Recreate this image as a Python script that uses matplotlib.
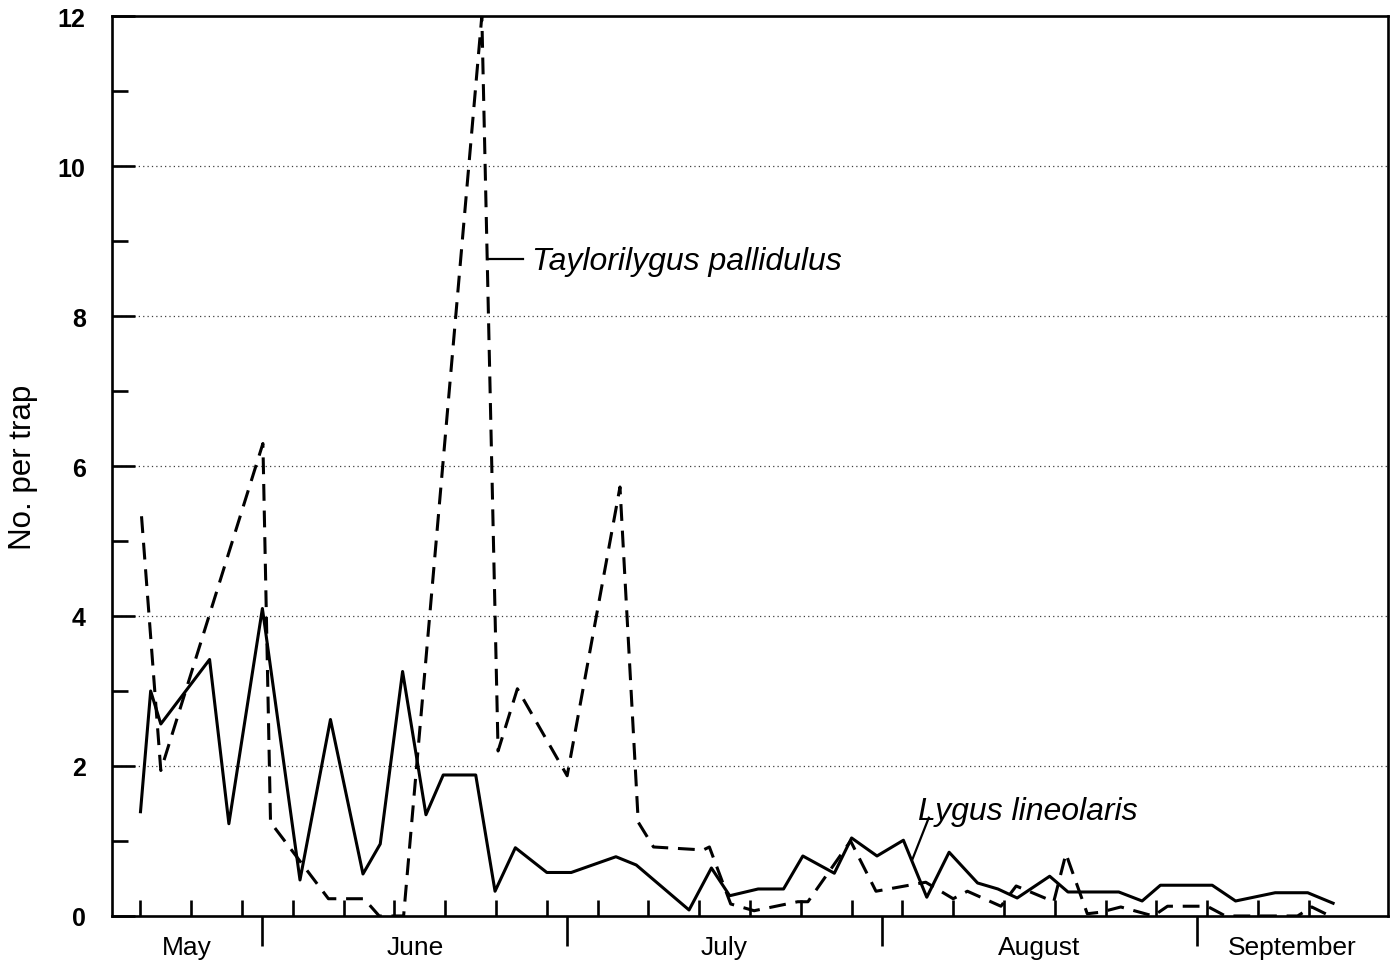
import matplotlib
matplotlib.use("Agg")
import matplotlib.pyplot as plt
import matplotlib.transforms as mtransforms
import numpy as np

plt.rcParams['font.family'] = ['Liberation Sans', 'DejaVu Sans']

# x values are day of year (May 1 = 121)
lygus_day = [140.0, 141.0, 142.0, 146.8, 148.7, 152.0, 155.7, 158.7, 161.9, 163.6,
             165.8, 168.1, 169.8, 173.0, 174.9, 176.9, 180.0, 182.4, 186.8, 188.8,
             194.0, 196.2, 198.0, 200.8, 203.3, 205.2, 208.3, 210.0, 212.5, 215.1,
             217.4, 219.6, 222.4, 224.4, 226.3, 229.5, 231.3, 236.3, 238.6, 240.4,
             245.5, 247.8, 251.7, 254.9, 257.4]
lygus_n = [1.39, 3.0, 2.56, 3.42, 1.23, 4.1, 0.48, 2.62, 0.56, 0.96,
           3.26, 1.35, 1.88, 1.88, 0.33, 0.91, 0.58, 0.58, 0.79, 0.68,
           0.08, 0.64, 0.27, 0.36, 0.36, 0.80, 0.57, 1.04, 0.80, 1.01,
           0.25, 0.85, 0.44, 0.36, 0.24, 0.53, 0.32, 0.32, 0.20, 0.41,
           0.41, 0.20, 0.31, 0.31, 0.17]

tayl_day = [140.1, 142.0, 152.05, 152.8, 158.5, 162.0, 163.5, 165.9, 173.6, 175.2,
            177.1, 182.0, 187.2, 189.0, 190.5, 195.4, 196.0, 198.1, 200.4, 204.7,
            205.7, 209.9, 212.4, 217.3, 220.0, 221.4, 224.7, 226.2, 229.9, 231.1,
            233.2, 234.5, 236.5, 239.7, 241.1, 245.0, 246.8, 253.9, 255.3, 257.1]
tayl_n = [5.33, 1.94, 6.30, 1.25, 0.23, 0.23, 0.0, 0.0, 12.0, 2.2,
          3.03, 1.87, 5.72, 1.25, 0.92, 0.88, 0.92, 0.16, 0.07, 0.19,
          0.19, 1.0, 0.33, 0.45, 0.23, 0.33, 0.13, 0.40, 0.19, 0.83,
          0.03, 0.05, 0.12, 0.0, 0.13, 0.13, 0.0, 0.0, 0.12, 0.0]

months = ['May', 'June', 'July', 'August', 'September']
month_starts = [152, 182, 213, 244]
x_min, x_max = 137.2, 262.8

fig = plt.figure(figsize=(13.92, 9.62), dpi=100)
ax = fig.add_axes([0.0805, 0.0468, 0.9166, 0.9355])

ax.plot(tayl_day, tayl_n, color='black', lw=2.2, linestyle=(0, (5.5, 3.2)))
ax.plot(lygus_day, lygus_n, color='black', lw=2.2)

ax.set_xlim(x_min, x_max)
ax.set_ylim(0, 12)

for side in ['left', 'right', 'top', 'bottom']:
    ax.spines[side].set_linewidth(1.9)

# y axis
ax.set_yticks(np.arange(0, 13, 2))
ax.set_yticks(np.arange(1, 12, 2), minor=True)
ax.tick_params(axis='y', which='major', direction='in', length=16.5, width=1.9,
               pad=19, labelsize=18)
ax.tick_params(axis='y', which='minor', direction='in', length=11.5, width=1.9)
for lab in ax.get_yticklabels():
    lab.set_fontweight('bold')
ax.set_ylabel('No. per trap', fontsize=22.5, labelpad=14)

for v in range(2, 12, 2):
    ax.axhline(v, color='0.25', lw=0.9, linestyle=(0, (1, 2.5)), zorder=0)

# x axis: 5-day ticks inside, month separators outside
ax.set_xticks(month_starts)
ax.set_xticklabels([])
ax.set_xticks(np.arange(140, 256, 5), minor=True)
ax.tick_params(axis='x', which='major', direction='out', length=21.5, width=1.9)
ax.tick_params(axis='x', which='minor', direction='in', length=11.5, width=1.9)

edges = [x_min] + month_starts + [x_max]
trans = mtransforms.blended_transform_factory(ax.transData, ax.transAxes)
for i, m in enumerate(months):
    ax.text((edges[i] + edges[i + 1]) / 2, -0.034, m, transform=trans,
            ha='center', va='center', fontsize=19)

# labels for the two species
ax.plot([174.2, 177.7], [8.76, 8.76], color='black', lw=1.6)
ax.text(178.5, 8.74, 'Taylorilygus pallidulus', fontsize=23, style='italic',
        ha='left', va='center')
ax.plot([217.6, 216.0], [1.31, 0.76], color='black', lw=1.6)
ax.text(216.5, 1.40, 'Lygus lineolaris', fontsize=23, style='italic',
        ha='left', va='center')

fig.savefig('out.png', dpi=100)
